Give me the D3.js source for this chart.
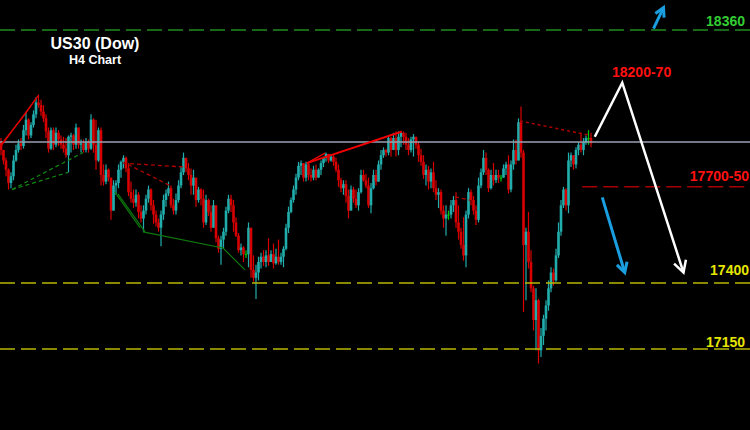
<!DOCTYPE html>
<html>
<head>
<meta charset="utf-8">
<script src="https://cdn.jsdelivr.net/npm/d3@7/dist/d3.min.js"></script>
<style>
  html, body { margin: 0; padding: 0; background: #000; }
  svg { display: block; }
  text { font-family: "Liberation Sans", Arial, sans-serif; font-weight: bold; }
</style>
</head>
<body>
<svg id="chart" width="750" height="430"></svg>
<script>
// US30 (Dow) H4 bars: each bar opens at the previous close.
const firstOpen = 17935;
const closes = [
  17905,17865,17830,17780,17805,17865,17905,17930,17920,17980,
  18020,17960,18000,18040,18085,18075,18050,18025,17975,17910,
  17980,17925,17970,17945,17925,17910,17885,17955,17960,17925,
  17990,17925,17930,17905,17935,17910,18020,17925,17865,17980,
  17810,17785,17830,17800,17675,17770,17780,17830,17860,17875,
  17835,17745,17720,17705,17735,17670,17645,17675,17720,17755,
  17695,17660,17630,17610,17660,17715,17740,17760,17695,17675,
  17715,17770,17820,17875,17835,17810,17770,17800,17715,17755,
  17720,17630,17715,17670,17610,17695,17570,17530,17565,17595,
  17675,17720,17695,17630,17580,17525,17535,17510,17510,17610,
  17450,17420,17440,17480,17500,17480,17505,17480,17510,17475,
  17500,17480,17500,17530,17610,17670,17715,17755,17800,17845,
  17855,17800,17850,17810,17800,17830,17800,17830,17855,17875,
  17890,17865,17880,17860,17830,17790,17760,17775,17730,17675,
  17755,17720,17695,17745,17810,17790,17770,17695,17760,17810,
  17785,17850,17885,17905,17895,17950,17905,17950,17905,17955,
  17970,17955,17925,17905,17945,17955,17925,17885,17860,17810,
  17830,17785,17820,17760,17735,17745,17675,17645,17660,17660,
  17695,17715,17630,17595,17545,17505,17660,17745,17715,17675,
  17640,17770,17820,17875,17830,17760,17810,17790,17810,17800,
  17800,17835,17850,17755,17850,17905,17865,18010,17895,17545,
  17595,17480,17380,17260,17335,17145,17200,17265,17315,17380,
  17440,17410,17505,17595,17695,17755,17695,17865,17885,17850,
  17905,17925,17905,17935,17950,17950,17930
];
const highs = [
  17950,17905,17875,17835,17820,17885,17925,17945,17950,18000,
  18050,18025,18010,18055,18105,18115,18095,18075,18040,17990,
  17990,17990,17990,17980,17960,17955,17950,17960,17970,17965,
  18005,17980,17945,17945,17950,17945,18040,18025,18020,17990,
  17990,17850,17850,17835,17800,17790,17790,17850,17865,17885,
  17880,17855,17785,17755,17755,17745,17695,17695,17735,17770,
  17760,17715,17675,17645,17675,17735,17755,17785,17770,17720,
  17740,17790,17840,17895,17875,17855,17835,17830,17780,17765,
  17760,17755,17735,17720,17695,17715,17675,17580,17580,17610,
  17690,17735,17735,17715,17650,17590,17550,17540,17525,17630,
  17595,17505,17470,17500,17515,17525,17525,17570,17525,17550,
  17530,17565,17515,17540,17625,17690,17725,17770,17815,17860,
  17865,17850,17860,17855,17835,17845,17850,17835,17865,17880,
  17895,17890,17890,17885,17875,17850,17800,17790,17790,17755,
  17770,17765,17755,17760,17830,17830,17815,17800,17780,17830,
  17830,17865,17905,17915,17910,17960,17955,17970,17975,17975,
  17975,17975,17970,17950,17955,17965,17955,17935,17910,17885,
  17850,17845,17835,17860,17790,17760,17755,17695,17695,17675,
  17715,17730,17745,17695,17610,17650,17675,17760,17755,17730,
  17695,17800,17835,17905,17895,17835,17830,17855,17830,17830,
  17810,17850,17860,17885,17865,17945,17945,18025,18070,17905,
  17610,17670,17525,17390,17380,17340,17230,17280,17335,17410,
  17460,17455,17530,17630,17715,17765,17760,17895,17895,17885,
  17915,17935,17970,17950,17960,17980,17970
];
const lows = [
  17885,17850,17805,17755,17760,17790,17860,17895,17905,17910,
  17960,17945,17950,17990,18025,18065,18035,18010,17950,17895,
  17905,17905,17915,17920,17910,17895,17875,17820,17895,17905,
  17910,17910,17895,17895,17895,17895,17905,17895,17830,17860,
  17770,17770,17775,17785,17640,17685,17735,17760,17800,17835,
  17820,17730,17705,17685,17690,17645,17630,17595,17660,17705,
  17675,17625,17615,17595,17540,17640,17690,17730,17685,17660,
  17660,17705,17760,17810,17820,17790,17735,17735,17690,17705,
  17695,17610,17620,17655,17595,17610,17555,17515,17470,17530,
  17580,17665,17670,17595,17575,17515,17505,17480,17495,17460,
  17420,17405,17340,17410,17455,17465,17460,17465,17480,17455,
  17470,17470,17470,17460,17525,17590,17665,17705,17735,17790,
  17810,17785,17785,17790,17785,17790,17790,17800,17810,17840,
  17860,17855,17860,17845,17820,17765,17745,17735,17705,17645,
  17695,17705,17685,17675,17740,17785,17760,17685,17665,17755,
  17770,17790,17830,17875,17880,17885,17880,17905,17880,17885,
  17915,17925,17905,17885,17895,17880,17910,17860,17845,17795,
  17770,17755,17760,17745,17715,17685,17660,17610,17580,17640,
  17645,17670,17610,17565,17530,17485,17460,17645,17695,17660,
  17620,17630,17760,17810,17810,17745,17755,17770,17780,17780,
  17785,17800,17810,17740,17745,17830,17850,17865,17875,17290,
  17335,17455,17365,17220,17145,17095,17120,17165,17220,17295,
  17365,17390,17405,17495,17580,17685,17675,17665,17840,17830,
  17835,17885,17895,17885,17925,17925,17915
];

// Horizontal levels and their captions
const levelTop = 18360;       // upside target
const levelMid = 17765;       // 17700-50 zone line
const levelLow1 = 17400;
const levelLow2 = 17150;
const refLevel = 17935;       // current reference line
const levelLabels = ["18360", "18200-70", "17700-50", "17400", "17150"];

// Trend lines as [bar index, price] points
const redTrendA = [[-0.4, 17915], [14.8, 18110]];
const redTrendB = [[0.4, 17930], [9.2, 18035], [14.4, 18105]];
const greenDashA = [[4.4, 17755], [26.8, 17820]];
const greenDashB = [[4.4, 17755], [32.8, 17895]];
const redDashA = [[48.8, 17855], [73.6, 17840]];
const redDashB = [[50.8, 17850], [67.6, 17770]];
const greenLineA = [[45.6, 17745], [55.6, 17610]];
const greenLineB = [[46.8, 17738], [57.6, 17594]];
const greenLineC = [[56.8, 17594], [88.8, 17533], [97.6, 17450]];
const redTopA = [[122.4, 17855], [160.4, 17975]];
const redTopB = [[122.4, 17855], [129.6, 17893]];
const redDashC = [[181.6, 17727], [187.6, 17715]];
const redDashD = [[207.6, 18015], [234.8, 17962]];

// Projected paths
const whitePath = [[237.5, 17955], [248.5, 18160], [273, 17440]];
const blueDown = [[240.5, 17725], [249.5, 17440]];
const blueUp = [[261, 18365], [265, 18445]];

const W = 750, H = 430;
const svg = d3.select("#chart");
svg.append("rect").attr("width", W).attr("height", H).attr("fill", "#000");

const bars = closes.map((c, i) => {
  const o = i === 0 ? firstOpen : closes[i - 1];
  return { i, o, c, h: Math.max(highs[i], o, c), l: Math.min(lows[i], o, c) };
});

const x = d3.scaleLinear().domain([0, bars.length - 1]).range([1, 591]);
const y = d3.scaleLinear().domain([17150, 18360]).range([349, 30]);

const TEAL = "#22adad", RED = "#d80000", DOJI = "#00c400";
const colorOf = d => d.c > d.o ? TEAL : (d.c < d.o ? RED : DOJI);

// Candles
const g = svg.append("g");
g.selectAll("line.wick").data(bars).join("line")
  .attr("class", "wick")
  .attr("x1", d => x(d.i)).attr("x2", d => x(d.i))
  .attr("y1", d => y(d.h)).attr("y2", d => y(d.l))
  .attr("stroke", colorOf).attr("stroke-width", 1.2);
g.selectAll("rect.body").data(bars).join("rect")
  .attr("class", "body")
  .attr("x", d => x(d.i) - 1.3)
  .attr("width", 2.6)
  .attr("y", d => y(Math.max(d.o, d.c)))
  .attr("height", d => Math.max(1, Math.abs(y(d.o) - y(d.c))))
  .attr("fill", colorOf);

// Level lines
const hline = (price, x0, x1, color, dash, width) => svg.append("line")
  .attr("x1", x0).attr("x2", x1).attr("y1", y(price)).attr("y2", y(price))
  .attr("stroke", color).attr("stroke-width", width || 1.5)
  .attr("stroke-dasharray", dash || null);

hline(refLevel, 0, W, "#98a1b2", null, 1.5);
hline(levelTop, 0, W, "#1f8a1f", "15,6", 1.5);
hline(levelLow1, 0, W, "#b8b800", "15,6", 1.5);
hline(levelLow2, 0, W, "#b8b800", "15,6", 1.5);
hline(levelMid, x(232.5), W, "#a80000", "15,6", 1.5);

// Trend lines
const line = d3.line().x(d => x(d[0])).y(d => y(d[1]));
const drawPath = (pts, color, width, dash) => svg.append("path")
  .attr("d", line(pts)).attr("fill", "none")
  .attr("stroke", color).attr("stroke-width", width)
  .attr("stroke-dasharray", dash || null);

drawPath(redTrendA, "#e00000", 1.2);
drawPath(redTrendB, "#e00000", 1.2);
drawPath(greenDashA, "#118a11", 1.2, "4,3");
drawPath(greenDashB, "#118a11", 1.2, "4,3");
drawPath(redDashA, "#b00000", 1.3, "4,3");
drawPath(redDashB, "#b00000", 1.3, "4,3");
drawPath(greenLineA, "#0e7a0e", 1.2);
drawPath(greenLineB, "#0e7a0e", 1.2);
drawPath(greenLineC, "#0e7a0e", 1.2);
drawPath(redTopA, "#f00000", 2);
drawPath(redTopB, "#f00000", 1.3);
drawPath(redDashC, "#b00000", 1.3, "4,3");
drawPath(redDashD, "#b00000", 1.5, "3,3");

// Arrows with open heads
function arrow(pts, color, width, headLen) {
  drawPath(pts, color, width);
  const a = pts[pts.length - 2], b = pts[pts.length - 1];
  const ax = x(a[0]), ay = y(a[1]), bx = x(b[0]), by = y(b[1]);
  const ang = Math.atan2(by - ay, bx - ax);
  const spread = 0.5;
  const head = [
    [bx - headLen * Math.cos(ang - spread), by - headLen * Math.sin(ang - spread)],
    [bx, by],
    [bx - headLen * Math.cos(ang + spread), by - headLen * Math.sin(ang + spread)]
  ];
  svg.append("path").attr("d", d3.line()(head)).attr("fill", "none")
    .attr("stroke", color).attr("stroke-width", width)
    .attr("stroke-linejoin", "miter");
}
arrow(whitePath, "#ffffff", 2.5, 13);
arrow(blueDown, "#1a9ee0", 3, 11);
arrow(blueUp, "#1a9ee0", 3, 10);

// Captions
const label = (txt, xPos, yPos, color, size, anchor) => svg.append("text")
  .attr("x", xPos).attr("y", yPos).attr("fill", color)
  .attr("font-size", size).attr("text-anchor", anchor || "start").text(txt);

label(levelLabels[0], 745, 26, "#33cc33", 14, "end");
label(levelLabels[1], 612, 77, "#ff1010", 14);
label(levelLabels[2], 749, 181, "#ff1010", 14, "end");
label(levelLabels[3], 749, 275, "#e6e600", 14, "end");
label(levelLabels[4], 745, 347, "#e6e600", 14, "end");

label("US30 (Dow)", 95, 49, "#ffffff", 16, "middle");
label("H4 Chart", 95, 64, "#ffffff", 12.5, "middle");
</script>
</body>
</html>
